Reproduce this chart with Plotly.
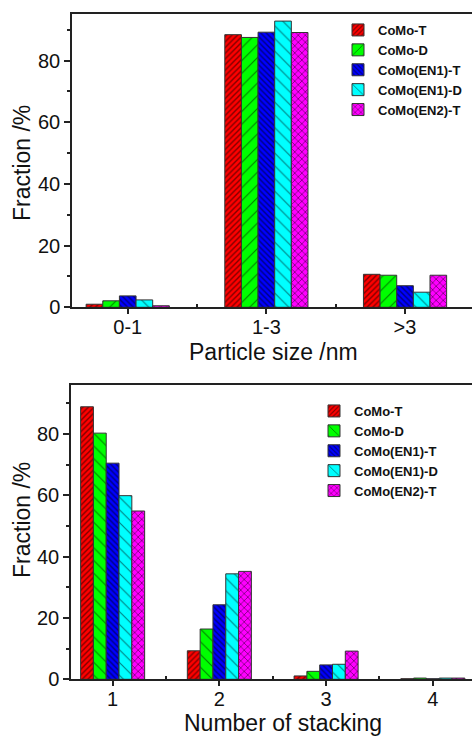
import plotly.graph_objects as go

series = ["CoMo-T", "CoMo-D", "CoMo(EN1)-T", "CoMo(EN1)-D", "CoMo(EN2)-T"]
colors = ["#FF0000", "#00FF00", "#0000FF", "#00FFFF", "#FF00FF"]

size_cats = ["0-1", "1-3", ">3"]
size_vals = {
    "CoMo-T": [1.0, 88.4, 10.7],
    "CoMo-D": [2.1, 87.5, 10.4],
    "CoMo(EN1)-T": [3.7, 89.2, 7.0],
    "CoMo(EN1)-D": [2.4, 92.8, 4.9],
    "CoMo(EN2)-T": [0.5, 89.1, 10.4],
}

stack_cats = ["1", "2", "3", "4"]
stack_vals = {
    "CoMo-T": [88.9, 9.3, 1.1, 0.2],
    "CoMo-D": [80.3, 16.4, 2.6, 0.4],
    "CoMo(EN1)-T": [70.5, 24.3, 4.7, 0.2],
    "CoMo(EN1)-D": [59.9, 34.4, 4.9, 0.4],
    "CoMo(EN2)-T": [54.9, 35.2, 9.2, 0.4],
}

x_title_top = "Particle size /nm"
x_title_bot = "Number of stacking"
y_title = "Fraction /%"

pat_top = [("/", 4, 0.35), ("/", 9, 0.12), ("\\", 4, 0.35), ("\\", 9, 0.12), ("x", 5, 0.3)]
pat_bot = [("/", 4, 0.35), ("\\", 9, 0.12), ("\\", 4, 0.35), ("\\", 9, 0.12), ("x", 5, 0.3)]

FONT = "Arial, Liberation Sans, sans-serif"
W, H = 472, 737

fig = go.Figure()

for i, s in enumerate(series):
    sh, sz, so = pat_top[i]
    fig.add_trace(go.Bar(
        x=list(range(len(size_cats))), y=size_vals[s], name=s,
        marker=dict(color=colors[i], line=dict(color="#333333", width=1),
                    pattern=dict(shape=sh, size=sz, solidity=so, fgcolor="black",
                                 fillmode="overlay")),
        xaxis="x", yaxis="y", legend="legend", offsetgroup=str(i),
    ))
for i, s in enumerate(series):
    sh, sz, so = pat_bot[i]
    fig.add_trace(go.Bar(
        x=list(range(len(stack_cats))), y=stack_vals[s], name=s,
        marker=dict(color=colors[i], line=dict(color="#333333", width=1),
                    pattern=dict(shape=sh, size=sz, solidity=so, fgcolor="black",
                                 fillmode="overlay")),
        xaxis="x2", yaxis="y2", legend="legend2", offsetgroup=str(i),
    ))

axis_common = dict(showline=True, linecolor="#222222", linewidth=1.5,
                   tickfont=dict(family=FONT, size=20, color="#111111"),
                   showgrid=False, zeroline=False, automargin=False)

xminor = dict(tickmode="linear", tick0=0.5, dtick=1, ticks="inside", ticklen=4,
              tickwidth=1.5, tickcolor="#222222")
yminor = dict(dtick=10, ticks="outside", ticklen=3, tickwidth=1.5, tickcolor="#222222")

fig.update_layout(
    width=W, height=H, margin=dict(l=0, r=0, t=0, b=0),
    plot_bgcolor="white", paper_bgcolor="white",
    barmode="group", showlegend=True,
    font=dict(family=FONT, color="#111111"),
    xaxis=dict(domain=[72 / W, 1.0], anchor="y", range=[-0.402, 2.483],
               tickmode="array", tickvals=list(range(len(size_cats))), ticktext=size_cats,
               ticks="outside", ticklen=5, tickwidth=1.5, tickcolor="#222222", mirror=True,
               minor=xminor, ticklabelstandoff=-4, **axis_common),
    yaxis=dict(domain=[(H - 307.3) / H, (H - 14) / H], anchor="x", range=[0, 95.1],
               tickmode="linear", tick0=0, dtick=20, ticks="outside", ticklen=6, tickwidth=1.5,
               tickcolor="#222222", minor=yminor, **axis_common),
    xaxis2=dict(domain=[71 / W, 1.0], anchor="y2", range=[-0.39, 3.367],
                tickmode="array", tickvals=list(range(len(stack_cats))), ticktext=stack_cats,
                ticks="outside", ticklen=5, tickwidth=1.5, tickcolor="#222222", mirror=True,
                minor=xminor, ticklabelstandoff=-4, **axis_common),
    yaxis2=dict(domain=[(H - 679.3) / H, (H - 385) / H], anchor="x2", range=[0, 96],
                tickmode="linear", tick0=0, dtick=20, ticks="outside", ticklen=6, tickwidth=1.5,
                tickcolor="#222222", minor=yminor, **axis_common),
    bargap=0.4, bargroupgap=0,
    legend=dict(x=338 / W, y=(H - 15) / H, xanchor="left", yanchor="top",
                font=dict(family=FONT, size=13, color="#111111", weight="bold"),
                bgcolor="rgba(0,0,0,0)", borderwidth=0, itemclick=False, tracegroupgap=0),
    legend2=dict(x=314 / W, y=(H - 396) / H, xanchor="left", yanchor="top",
                 font=dict(family=FONT, size=13, color="#111111", weight="bold"),
                 bgcolor="rgba(0,0,0,0)", borderwidth=0, itemclick=False, tracegroupgap=0),
)

title_font = dict(family=FONT, size=23, color="#111111")
fig.add_annotation(text=x_title_top, xref="paper", yref="paper", x=273 / W, y=1 - 352 / H,
                   xanchor="center", yanchor="middle", showarrow=False, font=title_font)
fig.add_annotation(text=x_title_bot, xref="paper", yref="paper", x=283 / W, y=1 - 723 / H,
                   xanchor="center", yanchor="middle", showarrow=False, font=title_font)
fig.add_annotation(text=y_title, xref="paper", yref="paper", x=22 / W, y=1 - 163 / H,
                   xanchor="center", yanchor="middle", showarrow=False, font=title_font,
                   textangle=-90)
fig.add_annotation(text=y_title, xref="paper", yref="paper", x=22 / W, y=1 - 520 / H,
                   xanchor="center", yanchor="middle", showarrow=False, font=title_font,
                   textangle=-90)

fig.write_html("out.html")
